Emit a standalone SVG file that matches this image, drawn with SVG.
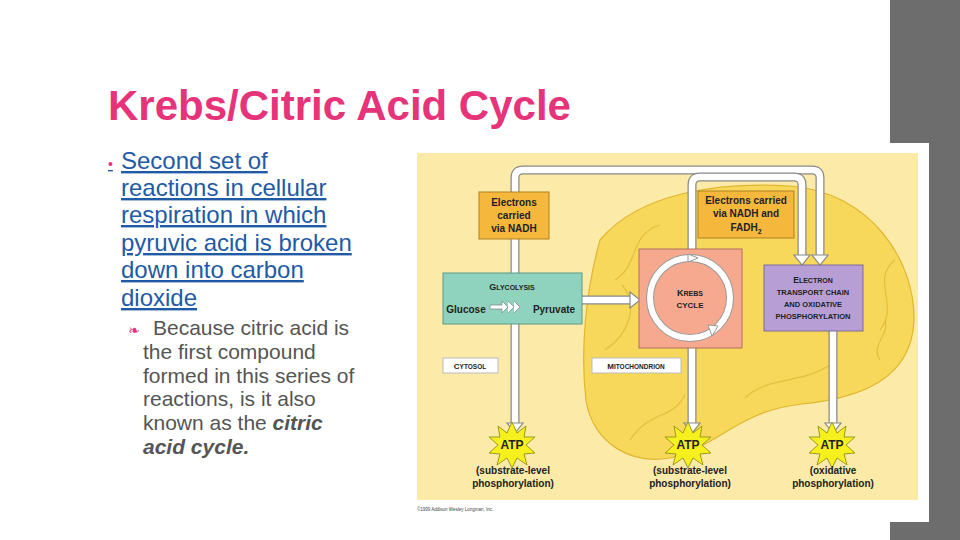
<svg xmlns="http://www.w3.org/2000/svg" width="960" height="540" viewBox="0 0 960 540">
<style>
.t{font-family:"Liberation Sans",Arial,sans-serif}
.b{font-family:"Liberation Sans",Arial,sans-serif;font-weight:bold;fill:#222;text-anchor:middle}
.out{fill:none;stroke:#888;stroke-width:9}
.in{fill:none;stroke:#fff;stroke-width:6.5}
.ah{fill:#fff;stroke:#888;stroke-width:1.2}
.star{fill:#f6f01e;stroke:#9a9a20;stroke-width:1}
</style>
<rect width="960" height="540" fill="#fff"/>
<rect x="890" y="0" width="70" height="540" fill="#6d6d6d"/>
<rect x="415" y="143" width="514" height="379" fill="#fff"/>
<text x="108" y="120" class="t" font-size="42" font-weight="bold" fill="#e6337a">Krebs/Citric Acid Cycle</text>
<g class="t" font-size="24" fill="#1f5aa6" text-decoration="underline">
<text x="108" y="169" fill="#e6337a" font-size="14">•</text>
<text x="121" y="169">Second set of</text>
<text x="121" y="196">reactions in cellular</text>
<text x="121" y="223">respiration in which</text>
<text x="121" y="251">pyruvic acid is broken</text>
<text x="121" y="278">down into carbon</text>
<text x="121" y="306">dioxide</text>
</g>
<g class="t" font-size="21" fill="#555">
<text x="128" y="335" fill="#e6337a" font-size="14" font-family="DejaVu Sans">❧</text>
<text x="153" y="335">Because citric acid is</text>
<text x="143" y="359">the first compound</text>
<text x="143" y="383">formed in this series of</text>
<text x="143" y="406">reactions, is it also</text>
<text x="143" y="430">known as the <tspan font-weight="bold" font-style="italic">citric</tspan></text>
<text x="143" y="454" font-weight="bold" font-style="italic">acid cycle.</text>
</g>
<rect x="417" y="153" width="501" height="347" fill="#fbeaa8"/>
<path id="mito" d="M600,240 C640,192 720,182 790,186 C870,192 915,260 914,320 C912,378 862,398 802,404 C745,410 722,440 682,455 C632,470 592,442 586,400 C580,350 586,290 600,240 Z" fill="#f8d85a" stroke="#e0b630" stroke-width="1.2"/>
<g fill="none" stroke="#e3bf3e" stroke-width="1.2">
<path d="M615,280 C640,265 628,235 660,225 M605,350 C628,335 640,305 622,285 M630,440 C650,410 672,420 685,395 M745,398 C770,375 800,385 830,365 M895,260 C870,280 900,305 880,330 M720,196 C740,212 770,204 790,194 M880,360 C870,345 890,335 885,320"/>
</g>
<g id="connectors">
<path class="out" d="M515,425 V178 Q515,170 523,170 H812 Q820,170 820,178 V258"/>
<path class="in" d="M515,425 V178 Q515,170 523,170 H812 Q820,170 820,178 V258"/>
<path class="out" d="M692,425 V185 Q692,177 700,177 H794 Q802,177 802,185 V258"/>
<path class="in" d="M692,425 V185 Q692,177 700,177 H794 Q802,177 802,185 V258"/>
<path class="out" d="M833,331 V425"/><path class="in" d="M833,331 V425"/>
<path class="out" d="M582,300 H632"/><path class="in" d="M582,300 H632"/>
<polygon class="ah" points="507,423 523,423 515,433"/>
<polygon class="ah" points="684,423 700,423 692,433"/>
<polygon class="ah" points="825,423 841,423 833,433"/>
<polygon class="ah" points="794,255 810,255 802,265"/>
<polygon class="ah" points="812,255 828,255 820,265"/>
<polygon class="ah" points="630,292 630,308 640,300"/>
</g>
<g id="nadh"><rect x="479" y="192" width="70" height="47" fill="#f5b83d" stroke="#b08020"/>
<text class="b" font-size="10"><tspan x="514" y="206">Electrons</tspan><tspan x="514" y="219">carried</tspan><tspan x="514" y="232">via NADH</tspan></text></g>
<g id="fadh"><rect x="698" y="191" width="96" height="47" fill="#f5b83d" stroke="#b08020"/>
<text class="b" font-size="10"><tspan x="746" y="204">Electrons carried</tspan><tspan x="746" y="217">via NADH and</tspan><tspan x="746" y="231">FADH<tspan font-size="7" dy="3">2</tspan></tspan></text></g>
<g id="glycolysis"><rect x="443" y="273" width="139" height="51" fill="#8fd3be" stroke="#5a9a88"/>
<text class="b" font-size="9" x="512" y="290">G<tspan font-size="7">LYCOLYSIS</tspan></text>
<text class="b" font-size="10" x="466" y="313">Glucose</text>
<text class="b" font-size="10" x="554" y="313">Pyruvate</text>
<path d="M490,305 h12 v-4 l6,6 l-6,6 v-4 h-12 z M508,301 l6,6 l-6,6 M514,301 l6,6 l-6,6" fill="#fff" stroke="#888" stroke-width="0.8"/></g>
<g id="krebs"><rect x="639" y="249" width="103" height="99" fill="#f6a98e" stroke="#b07060"/>
<circle cx="690" cy="298" r="40" fill="none" stroke="#999" stroke-width="8"/>
<circle cx="690" cy="298" r="40" fill="none" stroke="#fff" stroke-width="6"/>
<polygon points="688,254 698,258 688,262" fill="#fff" stroke="#999"/>
<polygon points="718,326 712,336 708,325" fill="#fff" stroke="#999"/>
<text class="b" font-size="9" x="690" y="296">K<tspan font-size="7">REBS</tspan></text>
<text class="b" font-size="8" x="690" y="308">CYCLE</text></g>
<g id="etc"><rect x="764" y="265" width="99" height="66" fill="#b79fd6" stroke="#7a6a98"/>
<text class="b" font-size="8.5"><tspan x="813" y="283">E<tspan font-size="7">LECTRON</tspan></tspan><tspan x="813" y="295" font-size="7.5">TRANSPORT CHAIN</tspan><tspan x="813" y="307" font-size="7.5">AND OXIDATIVE</tspan><tspan x="813" y="319" font-size="7.5">PHOSPHORYLATION</tspan></text></g>
<g id="cytosol"><rect x="443" y="358" width="55" height="15" fill="#fff" stroke="#bbb"/><text class="b" font-size="8" x="470" y="369">C<tspan font-size="6.5">YTOSOL</tspan></text></g>
<g id="mitolabel"><rect x="592" y="358" width="89" height="15" fill="#fff" stroke="#bbb"/><text class="b" font-size="8" x="636" y="369">M<tspan font-size="6.5">ITOCHONDRION</tspan></text></g>
<defs><polygon id="st" class="star" points="0,-23 5,-12 14,-19 12,-8 23,-8 14,0 23,8 12,9 15,20 5,13 0,23 -5,13 -15,20 -12,9 -23,8 -14,0 -23,-8 -12,-8 -14,-19 -5,-12"/></defs>
<g id="atp1"><use href="#st" x="512" y="445"/><text class="b" font-size="12" x="512" y="449">ATP</text>
<text class="b" font-size="10"><tspan x="513" y="474">(substrate-level</tspan><tspan x="513" y="487">phosphorylation)</tspan></text></g>
<g id="atp2"><use href="#st" x="688" y="445"/><text class="b" font-size="12" x="688" y="449">ATP</text>
<text class="b" font-size="10"><tspan x="690" y="474">(substrate-level</tspan><tspan x="690" y="487">phosphorylation)</tspan></text></g>
<g id="atp3"><use href="#st" x="832" y="445"/><text class="b" font-size="12" x="832" y="449">ATP</text>
<text class="b" font-size="10"><tspan x="833" y="474">(oxidative</tspan><tspan x="833" y="487">phosphorylation)</tspan></text></g>
<text x="417" y="511" class="t" font-size="4.5" fill="#444">©1999 Addison Wesley Longman, Inc.</text>
</svg>
